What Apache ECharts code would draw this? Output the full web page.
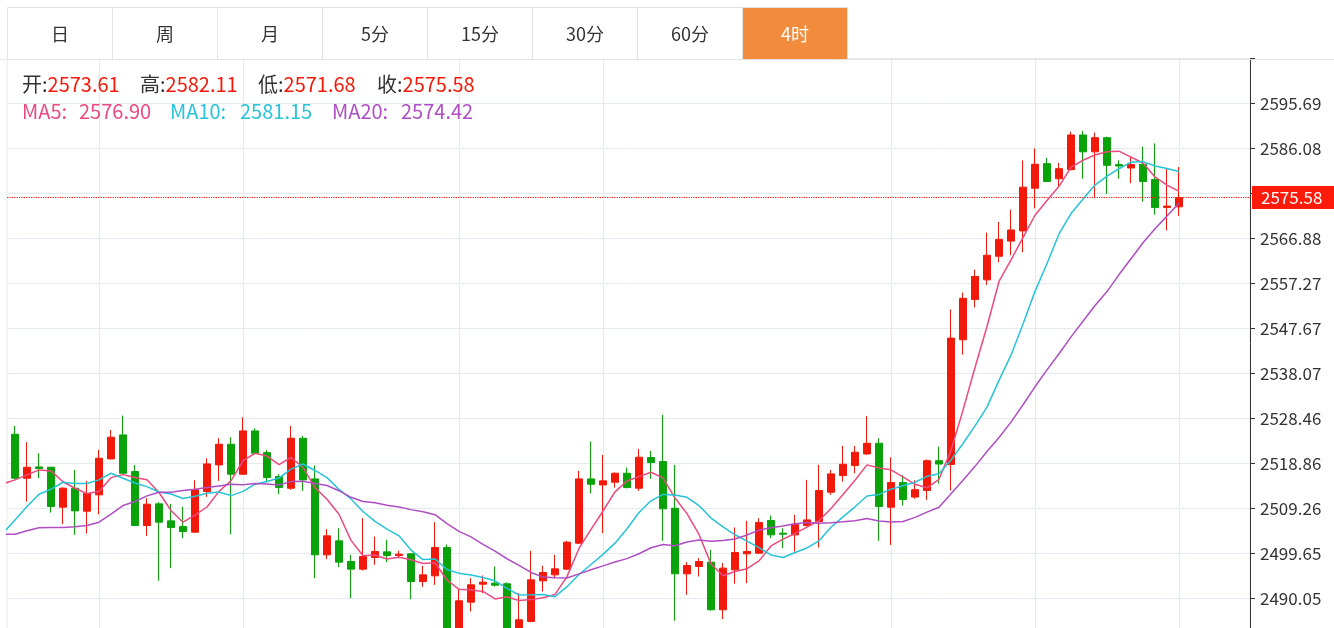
<!DOCTYPE html>
<html><head><meta charset="utf-8">
<script src="https://cdn.jsdelivr.net/npm/echarts@6/dist/echarts.min.js"></script>
<style>html,body{margin:0;padding:0;background:#fff;overflow:hidden}#c{width:1334px;height:628px}</style>
</head><body><div id="c"></div>
<script>
// ---- data (4H candles, index 0..97) ----
const opens = [
2525.05,2515.66,2518.07,2518.00,2509.47,2513.52,2508.61,2512.10,2519.78,2524.90,
2517.08,2505.55,2510.18,2506.55,2505.34,2504.13,2512.81,2518.50,2522.91,2516.51,
2525.76,2521.13,2516.01,2513.52,2524.19,2515.51,2499.29,2502.28,2497.87,2496.24,
2498.72,2499.93,2499.15,2499.51,2493.60,2494.81,2500.86,2483.50,2489.19,2493.03,
2493.25,2493.11,2481.50,2485.07,2493.75,2495.02,2496.24,2501.78,2515.51,2514.23,
2514.80,2516.72,2513.52,2520.07,2519.21,2509.25,2495.24,2496.81,2497.73,2487.56,
2496.09,2499.51,2499.65,2506.62,2503.92,2503.56,2505.55,2506.41,2512.67,2516.22,
2518.36,2520.85,2523.12,2509.47,2514.72,2511.63,2513.06,2519.40,2518.60,2545.22,
2553.85,2558.02,2563.06,2566.30,2568.46,2577.59,2582.84,2579.61,2581.55,2588.96,
2585.36,2588.38,2582.63,2581.91,2582.70,2579.46,2573.49,2573.61];
const closes = [
2515.66,2518.00,2517.72,2509.61,2513.52,2508.68,2512.38,2519.92,2524.41,2516.72,
2505.55,2510.11,2506.27,2505.13,2504.27,2513.17,2518.71,2522.91,2516.51,2525.76,
2520.99,2515.80,2513.66,2524.19,2515.30,2499.29,2503.35,2497.73,2496.24,2498.94,
2500.01,2499.15,2499.44,2493.60,2495.02,2500.86,2480.70,2489.48,2492.89,2493.46,
2492.82,2483.00,2485.42,2493.96,2495.52,2496.31,2502.00,2515.51,2514.37,2515.09,
2516.72,2513.66,2520.14,2519.00,2509.11,2495.24,2497.02,2497.87,2487.56,2496.45,
2499.79,2500.01,2506.19,2503.56,2503.70,2505.84,2506.76,2513.02,2516.58,2518.64,
2521.20,2523.12,2509.61,2514.72,2511.12,2513.21,2519.40,2518.68,2545.58,2554.07,
2558.74,2563.28,2566.66,2568.67,2577.81,2582.70,2579.03,2581.76,2588.96,2585.36,
2588.38,2582.48,2582.34,2582.63,2579.03,2573.49,2573.78,2575.58];
const lows = [
2515.51,2510.68,2515.66,2508.33,2505.84,2503.56,2503.85,2507.97,2519.70,2516.60,
2505.45,2503.35,2493.75,2496.45,2502.85,2504.00,2511.67,2515.09,2503.70,2516.40,
2520.90,2514.80,2512.24,2513.17,2512.95,2494.31,2498.37,2496.66,2490.05,2495.95,
2497.16,2497.73,2498.72,2489.83,2492.46,2492.89,2479.90,2482.00,2487.20,2491.11,
2492.54,2482.20,2480.60,2484.90,2491.47,2494.31,2496.10,2501.60,2512.45,2503.92,
2513.66,2513.50,2512.95,2515.51,2502.28,2485.21,2490.76,2494.67,2487.40,2485.57,
2493.11,2493.25,2499.50,2502.85,2500.72,2500.01,2505.40,2500.86,2512.10,2514.94,
2516.72,2520.63,2502.28,2501.41,2509.83,2511.27,2511.05,2514.50,2513.06,2542.06,
2552.13,2556.95,2561.77,2563.28,2563.92,2573.28,2578.89,2577.81,2581.40,2579.61,
2575.65,2576.37,2579.61,2578.67,2574.71,2571.91,2568.60,2571.68];
const highs = [
2526.82,2523.34,2520.99,2518.07,2513.73,2517.43,2515.09,2521.70,2525.97,2529.03,
2518.50,2511.39,2510.53,2510.18,2509.54,2515.23,2519.92,2524.19,2524.41,2528.67,
2526.33,2521.70,2516.51,2526.82,2524.69,2518.36,2504.77,2504.98,2499.29,2507.12,
2503.21,2502.50,2500.15,2499.60,2496.95,2506.27,2501.50,2491.97,2494.31,2494.88,
2496.81,2493.40,2491.11,2500.15,2496.95,2499.29,2502.28,2517.22,2523.48,2520.63,
2516.86,2517.93,2521.92,2521.49,2529.17,2518.50,2497.73,2498.58,2500.36,2497.52,
2505.13,2506.55,2507.12,2507.69,2504.98,2507.83,2515.30,2518.50,2517.43,2522.56,
2522.56,2528.96,2524.19,2520.11,2516.30,2515.22,2519.68,2522.42,2551.69,2555.29,
2560.18,2568.10,2570.40,2572.99,2583.56,2586.08,2584.07,2582.99,2589.68,2589.82,
2589.46,2588.60,2583.56,2584.28,2586.44,2587.16,2581.76,2582.11];

// moving-average lines; first point is the candle just left of the view
const maStartIndex = -1;
const ma5 = [
2514.45,2515.30,2516.37,2517.43,2517.22,
2514.90,2513.51,2512.38,2512.82,2515.78,2516.42,2515.80,2515.34,2512.61,2508.76,
2506.27,2507.79,2509.51,2512.84,2515.11,2519.41,2520.98,2520.39,2518.54,2520.08,
2517.99,2513.65,2511.16,2507.97,2502.38,2499.11,2499.25,2498.41,2498.76,2498.23,
2497.44,2497.61,2493.92,2491.93,2491.79,2491.48,2489.87,2490.33,2489.52,2489.73,
2490.14,2490.84,2494.64,2500.66,2504.74,2508.66,2512.74,2515.07,2516.00,2516.92,
2515.73,2511.43,2508.10,2503.65,2497.36,2494.83,2495.74,2496.34,2498.00,2501.20,
2502.65,2503.86,2505.21,2506.58,2509.18,2512.17,2515.24,2518.51,2517.83,2517.46,
2515.95,2514.36,2513.61,2515.43,2521.60,2530.19,2539.29,2548.07,2557.67,2562.28,
2567.03,2571.82,2574.97,2577.99,2582.05,2583.56,2584.70,2585.39,2585.50,2584.24,
2582.97,2579.99,2578.25,2576.90];
const ma10 = [
2503.88,2506.76,2509.61,2512.24,2513.31,2514.80,2514.52,2514.52,2515.30,2516.72,
2515.66,2514.65,2513.86,2512.72,2512.27,2511.34,2511.79,2512.43,2512.73,2511.94,
2512.84,2514.38,2514.95,2515.69,2517.60,2518.70,2517.31,2515.78,2513.26,2511.23,
2508.55,2506.45,2504.79,2503.36,2500.31,2498.28,2498.43,2496.17,2495.34,2495.01,
2494.46,2493.74,2492.13,2490.72,2490.76,2490.81,2490.36,2492.49,2495.09,2497.24,
2499.40,2501.79,2504.86,2508.33,2510.83,2512.19,2512.08,2511.59,2509.82,2507.14,
2505.28,2503.58,2502.22,2500.82,2499.28,2498.74,2499.80,2500.77,2502.29,2505.19,
2507.41,2509.55,2511.86,2512.20,2513.32,2514.06,2514.80,2516.06,2516.63,2519.53,
2523.07,2526.83,2530.84,2536.55,2541.94,2548.61,2555.56,2561.52,2567.83,2572.17,
2575.30,2578.26,2580.18,2581.75,2583.15,2583.27,2582.35,2581.82,2581.15];
const ma20 = [
2503.70,2503.70,2504.42,2505.06,2505.13,2505.13,2505.27,2505.55,2506.27,2507.97,
2509.82,2510.68,2511.89,2512.67,2512.67,2513.02,2513.31,2513.66,2514.02,2514.37,
2514.25,2514.52,2514.41,2514.20,2514.93,2515.02,2514.55,2514.10,2512.99,2511.58,
2510.69,2510.42,2509.87,2509.53,2508.95,2508.49,2507.87,2505.97,2504.30,2503.12,
2501.51,2500.10,2498.46,2497.04,2495.53,2494.54,2494.40,2494.33,2495.22,2496.12,
2496.93,2497.77,2498.49,2499.53,2500.80,2501.50,2501.22,2502.04,2502.46,2502.19,
2502.34,2502.69,2503.54,2504.58,2505.06,2505.47,2505.94,2506.18,2506.06,2506.17,
2506.34,2506.57,2507.04,2506.51,2506.30,2506.40,2507.30,2508.42,2509.46,2512.36,
2515.24,2518.19,2521.35,2524.37,2527.63,2531.34,2535.18,2538.79,2542.23,2545.85,
2549.18,2552.54,2555.51,2559.15,2562.54,2565.94,2568.95,2571.67,2574.42];

// candles that carry a vertical time grid line
const gridCandles = [7, 19, 37, 49, 73, 85, 97];
// price axis ticks
const yTickStart = 2480.44495;
const yTickStep = 9.60355;
const yTickCount = 13;
const tabs = ['日','周','月','5分','15分','30分','60分','4时'];
const activeTab = 7;

// ---- styles ----
const FONT = '"Noto Sans CJK SC","Noto Sans",sans-serif';
const UP = '#f2190a', DOWN = '#09a209';
const C5 = '#ea4a80', C10 = '#27c3d8', C20 = '#ae4ec2';
const GRIDC = '#e5eaf0';

const yMin = yTickStart, yMax = yTickStart + yTickStep * yTickCount;
const last = closes.length - 1;
const candleData = opens.map((o, i) => [i, o, closes[i], lows[i], highs[i]]);
const maSeries = (arr) => arr.map((v, i) => [i + maStartIndex, v]);

const graphic = [];
graphic.push({type:'line', shape:{x1:0, y1:59.5, x2:1334, y2:59.5}, style:{stroke:'#e3e7ec', lineWidth:1}, z:50});
tabs.forEach((t, i) => {
  const on = i === activeTab;
  graphic.push({type:'rect', shape:{x:7.5 + 105 * i, y:7.5, width:105, height:52}, style:{fill: on ? '#f38b3d' : '#fff', stroke:'#e3e3e3', lineWidth:1}, z:51});
  graphic.push({type:'text', x: 7.5 + 105 * i + 52.5, y: 34, style:{text:t, fill: on ? '#fff' : '#333', font:'18px ' + FONT, textAlign:'center', textVerticalAlign:'middle', align:'center', verticalAlign:'middle'}, z:52});
});
const fmt = v => v.toFixed(2);
const hdr1 = [['开:', opens[last], 22], ['高:', highs[last], 140], ['低:', lows[last], 258], ['收:', closes[last], 377]];
hdr1.forEach(([k, v, x]) => {
  graphic.push({type:'text', x:x, y:84, style:{text:'{k|' + k + '}{v|' + fmt(v) + '}', rich:{k:{fill:'#333', fontSize:20, fontFamily:FONT}, v:{fill:UP, fontSize:20, fontFamily:FONT}}, font:'20px ' + FONT, textVerticalAlign:'middle', verticalAlign:'middle'}, z:52});
});
const hdr2 = [['MA5:', ma5[ma5.length-1], C5, 22, 79], ['MA10:', ma10[ma10.length-1], C10, 170, 240], ['MA20:', ma20[ma20.length-1], C20, 332, 401]];
hdr2.forEach(([k, v, c, x1, x2]) => {
  graphic.push({type:'text', x:x1, y:111, style:{text:k, fill:c, font:'20px ' + FONT, textVerticalAlign:'middle', verticalAlign:'middle'}, z:52});
  graphic.push({type:'text', x:x2, y:111, style:{text:fmt(v), fill:c, font:'20px ' + FONT, textVerticalAlign:'middle', verticalAlign:'middle'}, z:52});
});

const PRICE_RED = '#ff1a0a';

const chart = echarts.init(document.getElementById('c'), null, {renderer:'canvas'});
chart.setOption({
  animation:false,
  backgroundColor:'#fff',
  textStyle:{fontFamily:FONT},
  grid:{left:7, right:84, top:58.5, bottom:-15.1, containLabel:false, outerBoundsMode:'none',
        show:true, borderColor:GRIDC, borderWidth:1, backgroundColor:'transparent'},
  xAxis:{type:'value', min:-2/3, max:97 + 71/12,
    axisLine:{show:false, onZero:false}, axisTick:{show:false, customValues:gridCandles},
    axisLabel:{show:false, customValues:gridCandles},
    splitLine:{show:true, lineStyle:{color:GRIDC, width:1}}},
  yAxis:{type:'value', position:'right', min:yMin, max:yMax, interval:yTickStep,
    axisLine:{show:true, onZero:false, lineStyle:{color:'#333'}},
    axisTick:{show:true, length:5, lineStyle:{color:'#333'}},
    axisLabel:{color:'#333', fontSize:17, margin:10, fontFamily:FONT,
      formatter:(v) => (Math.abs(v - yMax) < 1e-6 ? '' : v.toFixed(2))},
    splitLine:{show:true, lineStyle:{color:GRIDC, width:1}}},
  series:[
    {type:'candlestick', data:candleData, barWidth:7, silent:true,
     itemStyle:{color:UP, color0:DOWN, borderColor:UP, borderColor0:DOWN, borderColorDoji:UP, borderWidth:1},
     z:2},
    {type:'line', data:maSeries(ma5), symbol:'none', lineStyle:{color:C5, width:1.5}, z:4, silent:true},
    {type:'line', data:maSeries(ma10), symbol:'none', lineStyle:{color:C10, width:1.5}, z:4, silent:true},
    {type:'line', data:maSeries(ma20), symbol:'none', lineStyle:{color:C20, width:1.5}, z:4, silent:true},
    {type:'line', name:'last', data:[], symbol:'none', silent:true, z:5,
     itemStyle:{color:PRICE_RED}, lineStyle:{color:PRICE_RED},
     markLine:{silent:true, symbol:['none','none'], animation:false, precision:2,
       emphasis:{disabled:true},
       data:[{yAxis:closes[last]}],
       lineStyle:{color:PRICE_RED, type:'dotted', width:1.2, opacity:1},
       label:{show:true, position:'end', distance:2, formatter:fmt(closes[last]), color:'#fff', backgroundColor:PRICE_RED,
              fontSize:17, fontFamily:FONT, padding:[3,12,3,9]}}}
  ],
  graphic:graphic
});
</script></body></html>
